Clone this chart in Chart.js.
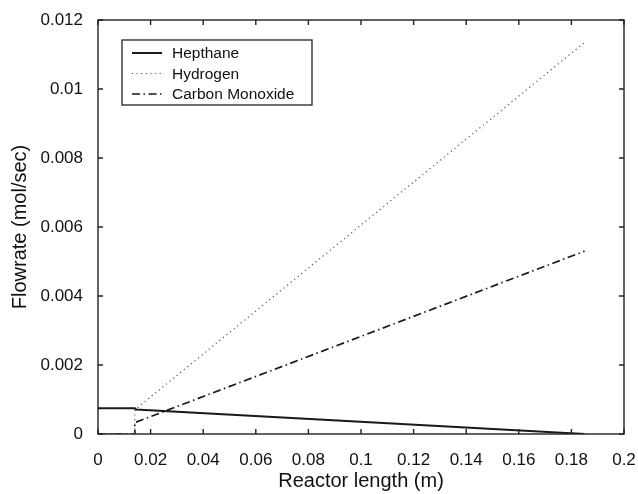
<!DOCTYPE html>
<html>
<head>
    <title>Reactor flowrates</title>
    <script src="https://cdn.jsdelivr.net/npm/chart.js"></script>
    <style>
        body { margin: 0; background: #fff; }
        #wrap { width: 638px; height: 494px; }
    </style>
</head>
<body>
<div id="wrap"><canvas id="flowChart" width="638" height="494"></canvas></div>
<script>
    // values (x in m, y in mol/sec)
    const hepthaneX = [0, 0.014, 0.0145, 0.185];
    const hepthaneY = [0.00075, 0.00075, 0.00071, 0.0];
    const hydrogenX = [0, 0.014, 0.014, 0.185];
    const hydrogenY = [0, 0, 0.0007, 0.01135];
    const coX = [0, 0.014, 0.014, 0.185];
    const coY = [0, 0, 0.00033, 0.0053];
    const xTicks = [0, 0.02, 0.04, 0.06, 0.08, 0.1, 0.12, 0.14, 0.16, 0.18, 0.2];
    const yTicks = [0, 0.002, 0.004, 0.006, 0.008, 0.01, 0.012];

    const toPoints = (xs, ys) => xs.map((x, i) => ({ x: x, y: ys[i] }));
    const FONT = 'Liberation Sans, Arial, sans-serif';

    // inward ticks on all four sides plus the box
    const frameTicks = {
        id: 'frameTicks',
        afterDraw(chart) {
            const { ctx, chartArea: a, scales } = chart;
            ctx.save();
            ctx.strokeStyle = '#222';
            ctx.lineWidth = 1.4;
            ctx.strokeRect(a.left, a.top, a.right - a.left, a.bottom - a.top);
            ctx.beginPath();
            xTicks.forEach(v => {
                const px = scales.x.getPixelForValue(v);
                ctx.moveTo(px, a.bottom); ctx.lineTo(px, a.bottom - 5);
                ctx.moveTo(px, a.top); ctx.lineTo(px, a.top + 5);
            });
            yTicks.forEach(v => {
                const py = scales.y.getPixelForValue(v);
                ctx.moveTo(a.left, py); ctx.lineTo(a.left + 5, py);
                ctx.moveTo(a.right, py); ctx.lineTo(a.right - 5, py);
            });
            ctx.stroke();
            ctx.restore();
        }
    };

    // legend box drawn inside the plot, top-left
    const boxLegend = {
        id: 'boxLegend',
        afterDraw(chart) {
            const { ctx } = chart;
            const x0 = 122, y0 = 40, w = 190, h = 65;
            ctx.save();
            ctx.fillStyle = '#fff';
            ctx.fillRect(x0, y0, w, h);
            ctx.strokeStyle = '#222';
            ctx.lineWidth = 1.3;
            ctx.strokeRect(x0, y0, w, h);
            ctx.font = '15.5px ' + FONT;
            ctx.textBaseline = 'middle';
            chart.data.datasets.forEach((ds, i) => {
                const y = y0 + 13 + i * 20.5;
                ctx.strokeStyle = ds.borderColor;
                ctx.lineWidth = ds.borderWidth;
                ctx.setLineDash(ds.borderDash || []);
                ctx.beginPath();
                ctx.moveTo(x0 + 10, y); ctx.lineTo(x0 + 40, y);
                ctx.stroke();
                ctx.setLineDash([]);
                ctx.fillStyle = '#111';
                ctx.fillText(ds.label, x0 + 50, y + 1);
            });
            ctx.restore();
        }
    };

    new Chart(document.getElementById('flowChart'), {
        type: 'line',
        data: {
            datasets: [
                { label: 'Hepthane', data: toPoints(hepthaneX, hepthaneY),
                  borderColor: '#1a1a1a', borderWidth: 2 },
                { label: 'Hydrogen', data: toPoints(hydrogenX, hydrogenY),
                  borderColor: '#555', borderWidth: 1.2, borderDash: [1.2, 3.4] },
                { label: 'Carbon Monoxide', data: toPoints(coX, coY),
                  borderColor: '#1a1a1a', borderWidth: 1.7, borderDash: [8, 3.5, 1.5, 3.5] }
            ]
        },
        options: {
            responsive: false,
            animation: false,
            elements: { point: { radius: 0 }, line: { tension: 0 } },
            layout: { padding: { top: 20, right: 14, left: 0, bottom: 0 } },
            plugins: { legend: { display: false }, tooltip: { enabled: false } },
            scales: {
                x: {
                    type: 'linear', min: 0, max: 0.2,
                    afterBuildTicks: s => { s.ticks = xTicks.map(v => ({ value: v })); },
                    afterFit: s => { s.height = 60; s.paddingLeft = 0; s.paddingRight = 0; },
                    grid: { display: false },
                    border: { display: false },
                    ticks: { color: '#111', font: { family: FONT, size: 17 }, padding: 8,
                             maxRotation: 0, callback: v => String(+v.toFixed(2)) },
                    title: { display: true, text: 'Reactor length (m)', color: '#111',
                             font: { family: FONT, size: 20 }, padding: { bottom: 1 } }
                },
                y: {
                    type: 'linear', min: 0, max: 0.012,
                    afterBuildTicks: s => { s.ticks = yTicks.map(v => ({ value: v })); },
                    afterFit: s => { s.width = 98; s.paddingTop = 0; s.paddingBottom = 0; },
                    grid: { display: false },
                    border: { display: false },
                    ticks: { color: '#111', font: { family: FONT, size: 17 }, padding: 7,
                             callback: v => String(+v.toFixed(3)) },
                    title: { display: true, text: 'Flowrate (mol/sec)', color: '#111',
                             font: { family: FONT, size: 20 }, padding: { top: 8 } }
                }
            }
        },
        plugins: [frameTicks, boxLegend]
    });
</script>
</body>
</html>
